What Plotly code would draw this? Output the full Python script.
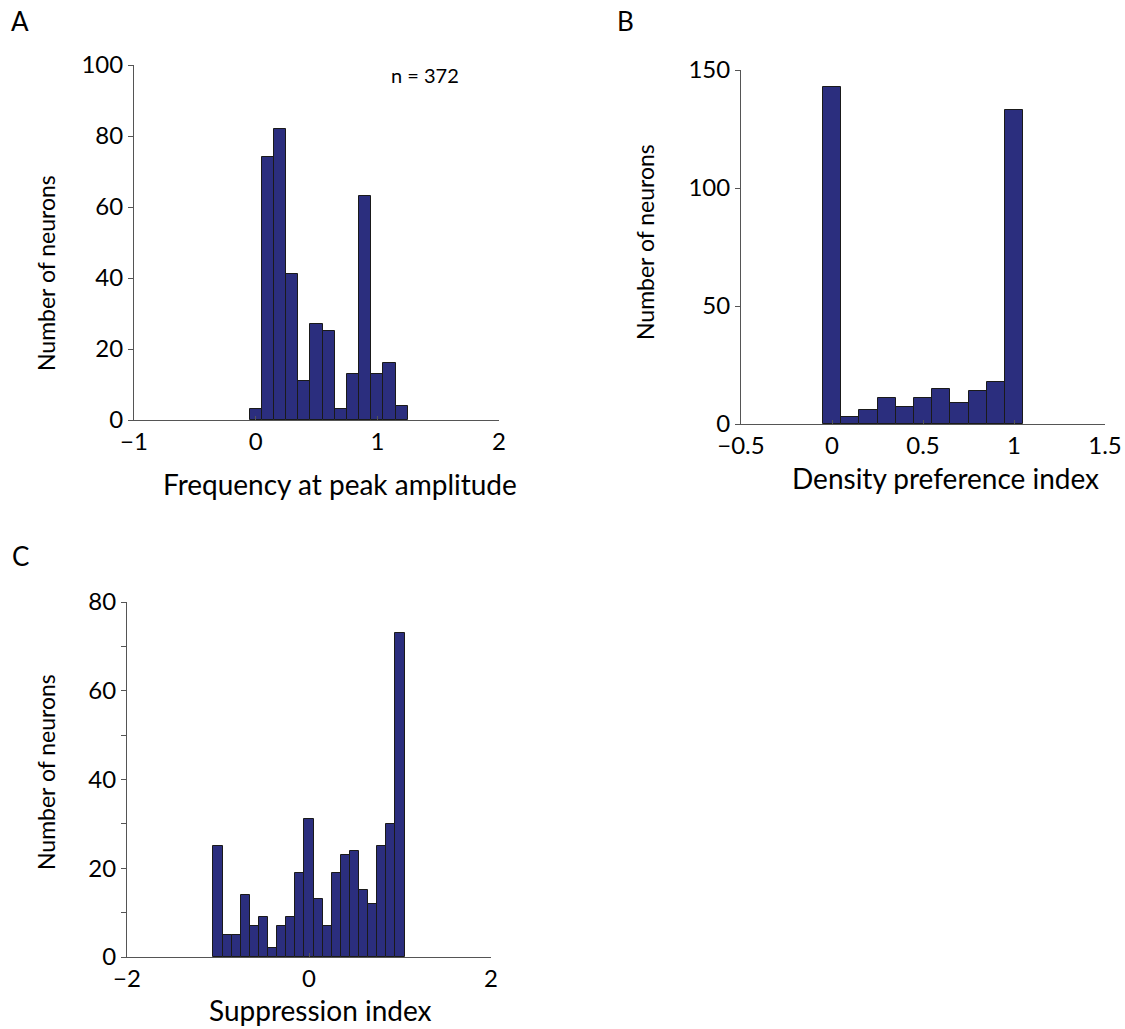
import plotly.graph_objects as go

# Panel A: Frequency at peak amplitude
a_centers = [0.0, 0.1, 0.2, 0.3, 0.4, 0.5, 0.6, 0.7, 0.8, 0.9, 1.0, 1.1, 1.2]
a_counts = [3, 74, 82, 41, 11, 27, 25, 3, 13, 63, 13, 16, 4]

# Panel B: Density preference index
b_centers = [0.0, 0.1, 0.2, 0.3, 0.4, 0.5, 0.6, 0.7, 0.8, 0.9, 1.0]
b_counts = [143, 3, 6, 11, 7, 11, 15, 9, 14, 18, 133]

# Panel C: Suppression index
c_centers = [-1.0, -0.9, -0.8, -0.7, -0.6, -0.5, -0.4, -0.3, -0.2, -0.1, 0.0,
             0.1, 0.2, 0.3, 0.4, 0.5, 0.6, 0.7, 0.8, 0.9, 1.0]
c_counts = [25, 5, 5, 14, 7, 9, 2, 7, 9, 19, 31, 13, 7, 19, 23, 24, 15, 12, 25, 30, 73]

BAR_WIDTH = 0.1
FILL = "#2B2E7E"
EDGE = "#1a1a1a"
AXIS = "#555555"
FONT = "Lato"

W, H = 1125, 1029

def fx(px):
    return px / W

def fy(py):
    return 1 - py / H

fig = go.Figure()

for cen, cnt, xa, ya in [(a_centers, a_counts, "x", "y"),
                         (b_centers, b_counts, "x2", "y2"),
                         (c_centers, c_counts, "x3", "y3")]:
    fig.add_trace(go.Bar(x=cen, y=cnt, width=BAR_WIDTH, xaxis=xa, yaxis=ya,
                         marker=dict(color=FILL, line=dict(color=EDGE, width=1)),
                         showlegend=False))

common_x = dict(showline=True, linecolor=AXIS, linewidth=1, ticks="inside",
                ticklen=4, tickcolor=AXIS, showgrid=False, zeroline=False,
                automargin=False,
                tickfont=dict(family=FONT, size=24, color="black"))
common_y = dict(showline=True, linecolor=AXIS, linewidth=1, ticks="outside",
                ticklen=5, tickcolor=AXIS, showgrid=False, zeroline=False,
                automargin=False,
                tickfont=dict(family=FONT, size=24, color="black"))

fig.update_layout(
    width=W, height=H, autosize=False,
    margin=dict(l=0, r=0, t=0, b=0),
    paper_bgcolor="white", plot_bgcolor="white",
    bargap=0,
    font=dict(family=FONT, color="black"),
    xaxis=dict(domain=[fx(134), fx(499)], range=[-1, 2], tickvals=[-1, 0, 1, 2],
               anchor="y", **common_x),
    yaxis=dict(domain=[fy(420), fy(65)], range=[0, 100], tickvals=[0, 20, 40, 60, 80, 100],
               anchor="x", **common_y),
    xaxis2=dict(domain=[fx(741), fx(1105)], range=[-0.5, 1.5],
                tickvals=[-0.5, 0, 0.5, 1, 1.5], anchor="y2", **common_x),
    yaxis2=dict(domain=[fy(424), fy(70)], range=[0, 150], tickvals=[0, 50, 100, 150],
                anchor="x2", **common_y),
    xaxis3=dict(domain=[fx(127), fx(491)], range=[-2, 2], tickvals=[-2, 0, 2],
                anchor="y3", **common_x),
    yaxis3=dict(domain=[fy(957), fy(602)], range=[0, 80], tickvals=[0, 20, 40, 60, 80],
                minor=dict(tickvals=[10, 30, 50, 70], ticks="outside", ticklen=5,
                           tickcolor=AXIS),
                anchor="x3", **common_y),
)

def ann(text, x, y, size, angle=0, xanchor="center", yanchor="middle"):
    fig.add_annotation(text=text, x=fx(x), y=fy(y), xref="paper", yref="paper",
                       showarrow=False, textangle=angle, xanchor=xanchor,
                       yanchor=yanchor, font=dict(family=FONT, size=size, color="black"))

# Panel labels
ann("A", 20, 21, 26)
ann("B", 625, 21, 26)
ann("C", 20, 556, 26)

# n label
ann("n = 372", 425, 75, 20)

# x axis titles
ann("Frequency at peak amplitude", 340, 484, 28)
ann("Density preference index", 945, 478, 28)
ann("Suppression index", 320, 1010, 28)

# y axis titles
ann("Number of neurons", 46, 273, 23, angle=-90)
ann("Number of neurons", 645, 242, 23, angle=-90)
ann("Number of neurons", 46, 772, 23, angle=-90)

fig.write_html("out.html")
